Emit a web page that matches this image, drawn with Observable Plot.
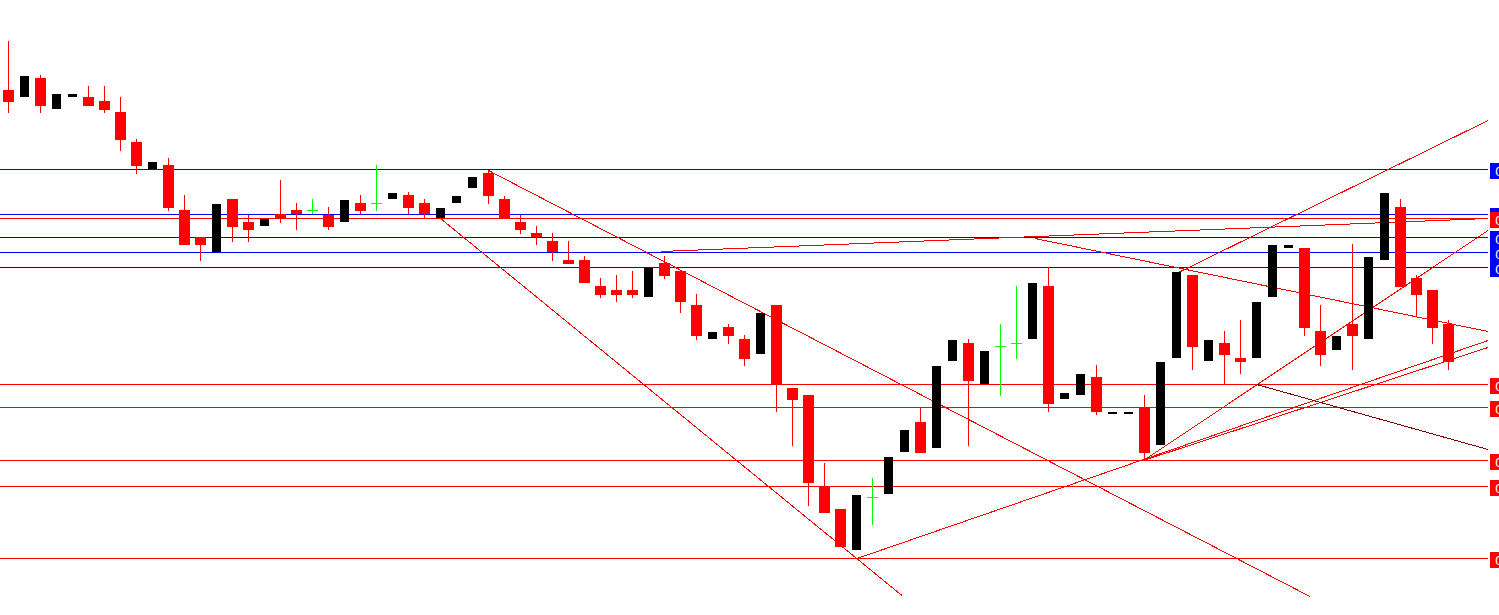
<!DOCTYPE html>
<html><head><meta charset="utf-8">
<script src="https://cdn.jsdelivr.net/npm/d3@7"></script>
<script src="https://cdn.jsdelivr.net/npm/@observablehq/plot@0.6"></script>
<style>html,body{margin:0;padding:0;background:#fff;overflow:hidden}svg{display:block}</style>
</head><body><div id="chart"></div>
<script>
// OHLC per bar (price), bar index = position in array
const opens = [0.7110,0.7103,0.7122,0.7091,0.7103,0.7103,0.7099,0.7088,0.7058,0.7031,
0.7035,0.6990,0.6963,0.6948,0.7001,0.6978,0.6974,0.6986,0.6990,0.6990,
0.6985,0.6978,0.6997,0.6997,0.7001,0.7005,0.6997,0.6982,0.6997,0.7012,
0.7027,0.7001,0.6978,0.6967,0.6959,0.6940,0.6940,0.6914,0.6910,0.6910,
0.6903,0.6937,0.6929,0.6895,0.6861,0.6873,0.6861,0.6846,0.6895,0.6812,
0.6805,0.6714,0.6691,0.6650,0.6703,0.6706,0.6748,0.6778,0.6752,0.6839,
0.6857,0.6816,0.6854,0.6857,0.6861,0.6914,0.6801,0.6805,0.6823,0.6786,
0.6786,0.6793,0.6755,0.6842,0.6925,0.6839,0.6857,0.6842,0.6842,0.6903,
0.6952,0.6952,0.6869,0.6850,0.6876,0.6861,0.6940,0.6993,0.6922,0.6910,
0.6876];
const highs = [0.7159,0.7124,0.7125,0.7106,0.7106,0.7114,0.7114,0.7103,0.7061,0.7038,
0.7042,0.7005,0.6963,0.6996,0.7001,0.6985,0.6981,0.7020,0.6997,0.7001,
0.6993,0.7000,0.7005,0.7035,0.7007,0.7008,0.7001,0.6992,0.7004,0.7023,
0.7030,0.7004,0.6985,0.6974,0.6967,0.6959,0.6944,0.6922,0.6925,0.6929,
0.6932,0.6944,0.6929,0.6906,0.6868,0.6876,0.6865,0.6887,0.6895,0.6812,
0.6805,0.6737,0.6691,0.6705,0.6722,0.6743,0.6770,0.6793,0.6834,0.6860,
0.6861,0.6849,0.6876,0.6914,0.6917,0.6933,0.6807,0.6826,0.6835,0.6788,
0.6788,0.6805,0.6838,0.6928,0.6925,0.6860,0.6869,0.6880,0.6898,0.6955,
0.6955,0.6952,0.6895,0.6864,0.6956,0.6943,0.7007,0.7001,0.6925,0.6910,
0.6880];
const lows = [0.7087,0.7103,0.7087,0.7091,0.7103,0.7094,0.7087,0.7049,0.7026,0.7031,
0.6989,0.6955,0.6939,0.6948,0.6958,0.6958,0.6974,0.6977,0.6970,0.6986,
0.6970,0.6978,0.6986,0.6989,0.7001,0.6986,0.6982,0.6982,0.6997,0.7012,
0.6996,0.6982,0.6966,0.6955,0.6939,0.6936,0.6917,0.6902,0.6898,0.6902,
0.6903,0.6921,0.6887,0.6860,0.6861,0.6856,0.6834,0.6846,0.6788,0.6754,
0.6694,0.6687,0.6653,0.6650,0.6675,0.6706,0.6748,0.6747,0.6752,0.6839,
0.6754,0.6816,0.6804,0.6841,0.6861,0.6788,0.6801,0.6805,0.6785,0.6786,
0.6786,0.6740,0.6755,0.6842,0.6830,0.6839,0.6816,0.6826,0.6842,0.6903,
0.6952,0.6864,0.6834,0.6850,0.6830,0.6861,0.6940,0.6913,0.6883,0.6856,
0.6830];
const closes = [0.7098,0.7124,0.7094,0.7106,0.7106,0.7094,0.7090,0.7060,0.7034,0.7038,
0.6992,0.6955,0.6955,0.6996,0.6973,0.6970,0.6981,0.6981,0.6986,0.6990,
0.6973,0.7000,0.6989,0.6997,0.7007,0.6992,0.6986,0.6992,0.7004,0.7023,
0.7004,0.6982,0.6970,0.6963,0.6948,0.6936,0.6917,0.6905,0.6905,0.6905,
0.6932,0.6924,0.6898,0.6864,0.6868,0.6864,0.6841,0.6887,0.6816,0.6800,
0.6717,0.6687,0.6653,0.6705,0.6703,0.6743,0.6770,0.6747,0.6834,0.6860,
0.6819,0.6849,0.6854,0.6857,0.6917,0.6796,0.6807,0.6826,0.6788,0.6788,
0.6788,0.6747,0.6838,0.6928,0.6853,0.6860,0.6845,0.6838,0.6898,0.6955,
0.6955,0.6872,0.6845,0.6864,0.6864,0.6943,0.7007,0.6913,0.6905,0.6872,
0.6838];

// horizontal price levels
const blueLevels = [0.7031, 0.6986, 0.6963, 0.6948, 0.6933];
const redLevels = [0.6982, 0.6816, 0.6793, 0.6740, 0.6714, 0.6642];

// red trend lines: start bar, start price, end bar, end price
const trendX1 = [30, 27, 53.03, 70.94, 70.94, 64.16, 40.78, 73];
const trendY1 = [0.7030, 0.6982, 0.6642, 0.6740, 0.6740, 0.6962, 0.6949, 0.6927];
const trendX2 = [81.34, 55.84, 92.47, 92.47, 92.47, 92.47, 92.47, 92.47];
const trendY2 = [0.6604, 0.6605, 0.6860, 0.6970, 0.6853, 0.6869, 0.6982, 0.7080];
// dark red trend line
const darkX = [78.01, 92.47];
const darkY = [0.6816, 0.6751];

const levelStart = -0.6, levelEnd = 92.47, labelStart = 92.6;

const candles = opens.map((o, i) => ({i, open: o, high: highs[i], low: lows[i], close: closes[i]}));
const down = candles.filter(d => d.close < d.open);
const up = candles.filter(d => d.close > d.open);
const doji = candles.filter(d => d.close === d.open);
const trends = trendX1.map((x, k) => ({x1: x, y1: trendY1[k], x2: trendX2[k], y2: trendY2[k]}));
const dark = [{x1: darkX[0], y1: darkY[0], x2: darkX[1], y2: darkY[1]}];

const redHalf = 5.5 / 16, blackHalf = 4.5 / 16;
const BLUE = "#0000ff", RED = "#ff0000";

function levelMarks(vals, color) {
  return [
    Plot.ruleY(vals, {y: d => d, x1: () => levelStart, x2: () => levelEnd, stroke: color, strokeWidth: 1})
  ];
}
function labelMarks(vals, color) {
  return [
    Plot.rect(vals, {x1: () => labelStart, x2: () => 95, y1: d => d + 0.0006, y2: d => d - 0.0010, fill: color}),
    Plot.text(vals, {x: () => labelStart, y: d => d, text: d => d.toFixed(5), dx: 5, dy: 3, textAnchor: "start", fill: "#ffffff", fontSize: 12, fontFamily: "DejaVu Sans"})
  ];
}

const chart = Plot.plot({
  width: 1499, height: 615, margin: 0,
  style: {background: "#fff", shapeRendering: "crispEdges"},
  x: {domain: [0, 93], range: [8, 8 + 16 * 93], axis: null},
  y: {domain: [0.6585, 0.72], range: [615, 0], axis: null},
  marks: [
    ...levelMarks(blueLevels, BLUE),
    ...levelMarks(redLevels, RED),
    Plot.link(trends, {x1: "x1", y1: "y1", x2: "x2", y2: "y2", stroke: RED, strokeWidth: 1}),
    Plot.link(dark, {x1: "x1", y1: "y1", x2: "x2", y2: "y2", stroke: "#800000", strokeWidth: 1}),
    Plot.ruleX(down, {x: "i", y1: "low", y2: "high", stroke: RED, strokeWidth: 1}),
    Plot.rect(down, {x1: d => d.i - redHalf, x2: d => d.i + redHalf, y1: "open", y2: "close", fill: RED}),
    Plot.rect(up, {x1: d => d.i - blackHalf, x2: d => d.i + blackHalf, y1: "open", y2: "close", fill: "#000000"}),
    Plot.ruleX(doji, {x: "i", y1: "low", y2: "high", stroke: "#00ff00", strokeWidth: 1}),
    Plot.ruleY(doji, {y: "open", x1: d => d.i - redHalf, x2: d => d.i + redHalf, stroke: "#00ff00", strokeWidth: 1}),
    ...labelMarks(blueLevels, BLUE),
    ...labelMarks(redLevels, RED)
  ]
});
document.getElementById("chart").appendChild(chart);
</script>
</body></html>
